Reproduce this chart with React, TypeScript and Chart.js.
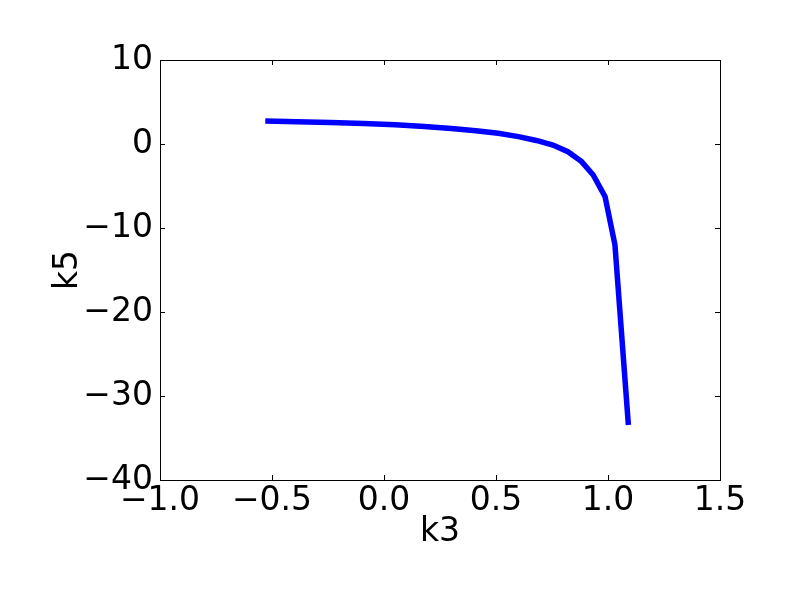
import React, { useEffect, useRef } from "react";
import { Chart, registerables } from "chart.js";

Chart.register(...registerables);

// Curve (k3 on x, k5 on y)
const k3Values = [
  -0.53, -0.39, -0.24, -0.09, 0.05, 0.18, 0.3, 0.41, 0.51, 0.6, 0.68, 0.754,
  0.821, 0.882, 0.934, 0.987, 1.031, 1.091,
];
const k5Values = [
  2.74, 2.66, 2.57, 2.44, 2.28, 2.08, 1.85, 1.58, 1.27, 0.88, 0.42, -0.12,
  -0.92, -2.1, -3.69, -6.27, -12.0, -33.45,
];
const xRange = [-1.0, 1.5];
const yRange = [-40, 10];
const xStep = 0.5;
const yStep = 10;
const xTitle = "k3";
const yTitle = "k5";

const FONT = "'DejaVu Sans', sans-serif";

const minus = (s: string) => s.replace(/-/g, "\u2212");

const frameTicks = {
  id: "frameTicks",
  afterDraw(chart: any) {
    const { ctx, chartArea } = chart;
    const { left, right, top, bottom } = chartArea;
    const xs = chart.scales.x;
    const ys = chart.scales.y;
    const len = 5;
    ctx.save();
    ctx.strokeStyle = "#000";
    ctx.lineWidth = 1;
    ctx.beginPath();
    xs.ticks.forEach((t: any) => {
      const px = Math.round(xs.getPixelForValue(t.value)) + 0.5;
      ctx.moveTo(px, bottom);
      ctx.lineTo(px, bottom - len);
      ctx.moveTo(px, top);
      ctx.lineTo(px, top + len);
    });
    ys.ticks.forEach((t: any) => {
      const py = Math.round(ys.getPixelForValue(t.value)) + 0.5;
      ctx.moveTo(left, py);
      ctx.lineTo(left + len, py);
      ctx.moveTo(right, py);
      ctx.lineTo(right - len, py);
    });
    ctx.stroke();
    ctx.strokeRect(
      Math.round(left) + 0.5,
      Math.round(top) + 0.5,
      Math.round(right - left),
      Math.round(bottom - top)
    );
    ctx.restore();
  },
};

export default function App() {
  const ref = useRef<HTMLCanvasElement | null>(null);

  useEffect(() => {
    document.body.style.margin = "0";
    const canvas = ref.current;
    if (!canvas) return;
    const data = k3Values.map((x, i) => ({ x, y: k5Values[i] }));
    const chart = new Chart(canvas, {
      type: "scatter",
      data: {
        datasets: [
          {
            data,
            showLine: true,
            borderColor: "#0000ff",
            backgroundColor: "#0000ff",
            borderWidth: 5.5,
            pointRadius: 0,
            tension: 0,
            borderJoinStyle: "miter",
          } as any,
        ],
      },
      options: {
        responsive: false,
        animation: false,
        layout: { padding: { left: 0, top: 60, right: 80, bottom: 0 } },
        plugins: {
          legend: { display: false },
          tooltip: { enabled: false },
        },
        scales: {
          x: {
            type: "linear",
            min: xRange[0],
            max: xRange[1],
            afterFit: (s: any) => {
              s.height = 120;
            },
            ticks: {
              stepSize: xStep,
              padding: 2,
              color: "#000",
              font: { family: FONT, size: 33 },
              maxRotation: 0,
              callback: (v: any) => minus(Number(v).toFixed(1)),
            },
            grid: { display: false, drawTicks: false },
            border: { display: false },
            title: {
              display: true,
              text: xTitle,
              color: "#000",
              font: { family: FONT, size: 33, lineHeight: 1.2 },
              padding: { top: 0, bottom: 48 },
            },
          },
          y: {
            type: "linear",
            min: yRange[0],
            max: yRange[1],
            afterFit: (s: any) => {
              s.width = 160;
            },
            ticks: {
              stepSize: yStep,
              padding: 7,
              color: "#000",
              font: { family: FONT, size: 33 },
              callback: (v: any) => minus(String(Math.round(Number(v)))),
            },
            grid: { display: false, drawTicks: false },
            border: { display: false },
            title: {
              display: true,
              text: yTitle,
              color: "#000",
              font: { family: FONT, size: 33, lineHeight: 1.2 },
              padding: { top: 49, bottom: 0 },
            },
          },
        },
      },
      plugins: [frameTicks],
    });
    return () => chart.destroy();
  }, []);

  return (
    <div style={{ width: 800, height: 600, background: "#fff" }}>
      <canvas ref={ref} width={800} height={600} style={{ display: "block" }} />
    </div>
  );
}
